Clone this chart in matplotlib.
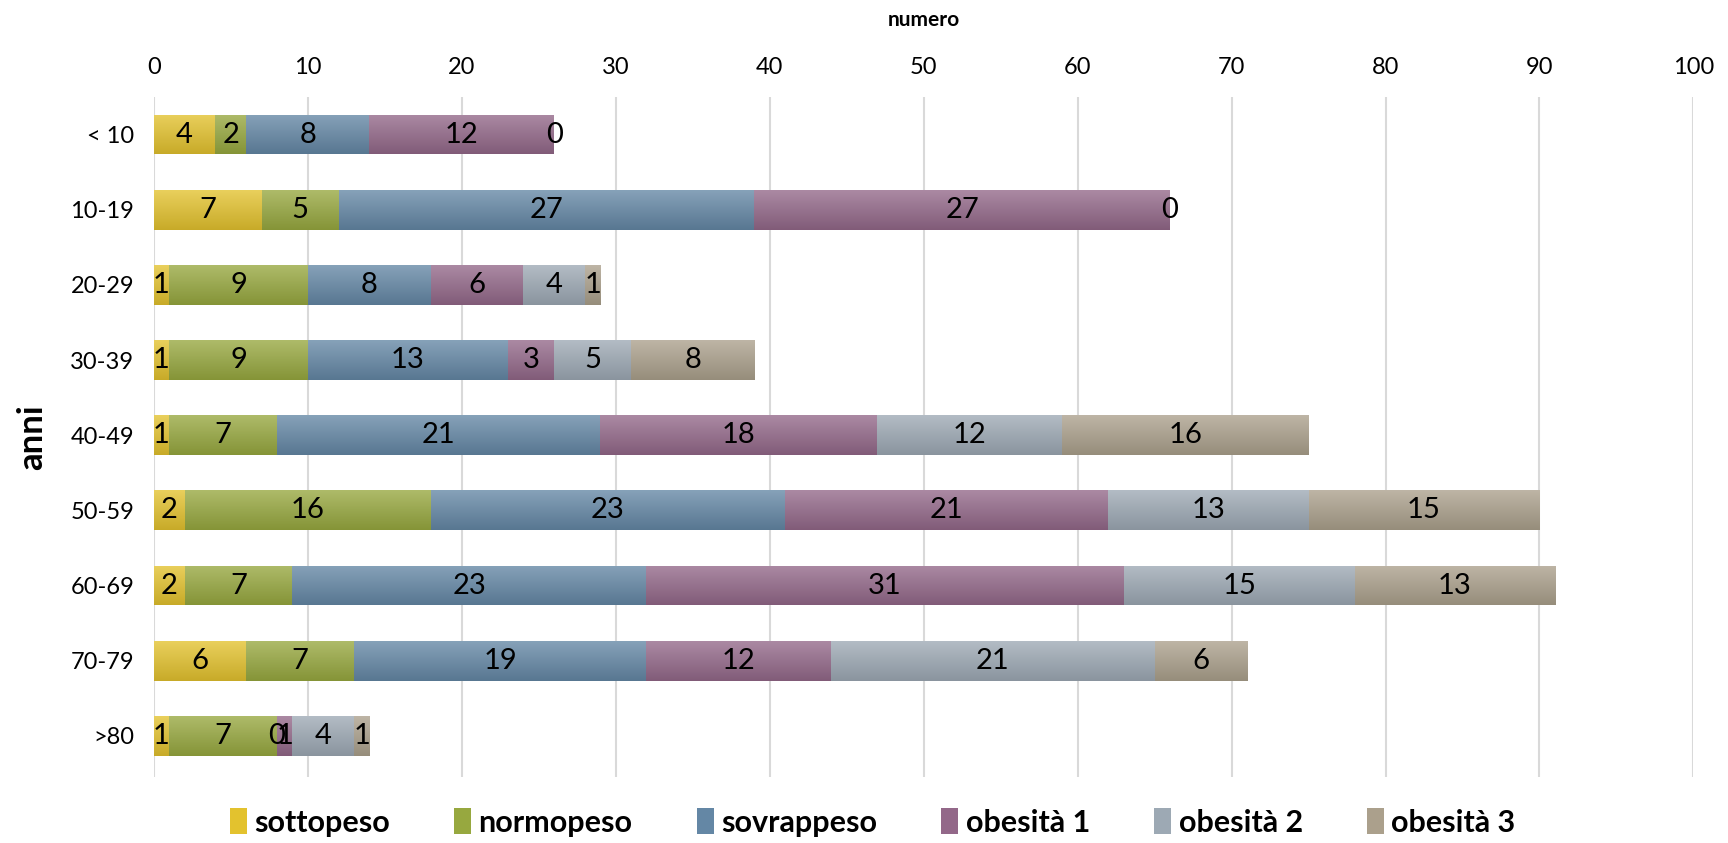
import numpy as np
import matplotlib
matplotlib.use("Agg")
import matplotlib.pyplot as plt
from matplotlib.colors import to_rgb

plt.rcParams['font.family'] = ['Lato', 'DejaVu Sans']

categories = ["< 10", "10-19", "20-29", "30-39", "40-49", "50-59", "60-69", "70-79", ">80"]
series_names = ["sottopeso", "normopeso", "sovrappeso", "obesità 1", "obesità 2", "obesità 3"]
sottopeso = [4, 7, 1, 1, 1, 2, 2, 6, 1]
normopeso = [2, 5, 9, 9, 7, 16, 7, 7, 7]
sovrappeso = [8, 27, 8, 13, 21, 23, 23, 19, 0]
obesita1 = [12, 27, 6, 3, 18, 21, 31, 12, 1]
obesita2 = [0, 0, 4, 5, 12, 13, 15, 21, 4]
obesita3 = [None, None, 1, 8, 16, 15, 13, 6, 1]
colors = ["#E3C22E", "#97A83F", "#6487A5", "#936889", "#9DA9B4", "#ABA08C"]

series = [sottopeso, normopeso, sovrappeso, obesita1, obesita2, obesita3]

fig = plt.figure(figsize=(17.28, 8.43), dpi=100)
ax = fig.add_axes([0.089, 0.078, 0.891, 0.807])

y = np.arange(len(categories))
left = np.zeros(len(categories))
handles = []
for name, vals, col in zip(series_names, series, colors):
    v = np.array([0 if x is None else x for x in vals], dtype=float)
    bars = ax.barh(y, v, left=left, height=0.53, color=col, edgecolor='none', label=name)
    handles.append(bars)
    base = np.array(to_rgb(col))
    top = base + (1 - base) * 0.22
    bot = base * 0.88
    grad = np.linspace(0, 1, 64)[:, None, None]
    img = top * (1 - grad) + bot * grad
    for b, raw in zip(bars, vals):
        if raw is None:
            continue
        x0, y0 = b.get_x(), b.get_y()
        w, h = b.get_width(), b.get_height()
        if w > 0:
            im = ax.imshow(img, extent=[x0, x0 + w, y0 + h, y0], aspect='auto',
                           zorder=2, interpolation='bilinear')
            im.set_clip_path(b)
        ax.text(x0 + w / 2, y0 + h / 2, str(raw), ha='center', va='center',
                fontsize=21, zorder=3)
    left += v

ax.set_xlim(0, 100)
ax.set_ylim(8.55, -0.5)
ax.set_xticks(range(0, 101, 10))
ax.xaxis.tick_top()
ax.xaxis.set_label_position('top')
ax.set_xlabel("numero", fontsize=15, fontweight='bold', labelpad=22)
ax.set_ylabel("anni", fontsize=25, fontweight='bold', labelpad=16)
ax.set_yticks(y)
ax.set_yticklabels(categories)
ax.tick_params(axis='both', length=0, labelsize=17, pad=14)
ax.grid(axis='x', color='#D9D9D9', linewidth=1.5)
ax.set_axisbelow(True)
for s in ax.spines.values():
    s.set_visible(False)

fig.legend(handles=handles, labels=series_names, loc='lower center', ncol=6,
           bbox_to_anchor=(0.505, -0.025), frameon=False,
           prop={'size': 22, 'weight': 'bold'}, handlelength=0.55, handleheight=0.9,
           handletextpad=0.25, columnspacing=2.1)

fig.savefig("out.png", dpi=100)
